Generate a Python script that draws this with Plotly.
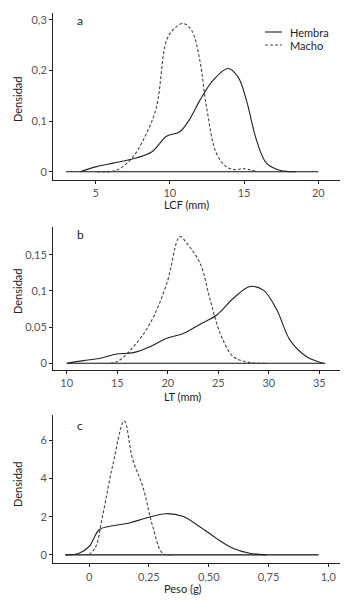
import plotly.graph_objects as go

# Panel a: LCF (mm)
a_hembra_x = [3.94, 5.07, 6.2, 7.31, 8.77, 9.78, 10.67, 11.3, 12.02, 12.92, 13.92, 14.6, 15.16, 15.83, 16.5, 17.4, 18.5]
a_hembra_y = [0.0, 0.010, 0.017, 0.024, 0.039, 0.070, 0.079, 0.102, 0.141, 0.181, 0.204, 0.187, 0.141, 0.063, 0.017, 0.003, 0.0]
a_macho_x = [5.07, 6.4, 7.53, 8.43, 9.1, 9.78, 10.3, 10.9, 11.46, 12.02, 12.47, 13.14, 13.8, 14.4, 14.93, 15.9]
a_macho_y = [0.0, 0.003, 0.030, 0.076, 0.128, 0.260, 0.283, 0.293, 0.280, 0.220, 0.128, 0.036, 0.010, 0.004, 0.006, 0.0]

# Panel b: LT (mm)
b_hembra_x = [10.0, 11.65, 13.3, 14.95, 16.6, 18.25, 19.9, 21.54, 23.2, 24.85, 26.5, 28.15, 29.47, 30.8, 32.1, 33.76, 35.4]
b_hembra_y = [0.0, 0.0037, 0.0069, 0.0128, 0.0147, 0.023, 0.0345, 0.041, 0.054, 0.0667, 0.0898, 0.106, 0.101, 0.0736, 0.032, 0.009, 0.0]
b_macho_x = [13.3, 14.95, 16.6, 18.25, 19.9, 21.2, 21.88, 23.2, 24.2, 25.2, 26.5, 28.15, 29.8]
b_macho_y = [0.0, 0.002, 0.023, 0.055, 0.110, 0.175, 0.166, 0.138, 0.0875, 0.041, 0.009, 0.001, 0.0]

# Panel c: Peso (g)
c_hembra_x = [-0.098, -0.042, 0.0, 0.042, 0.084, 0.168, 0.238, 0.322, 0.391, 0.461, 0.531, 0.601, 0.671, 0.741]
c_hembra_y = [0.0, 0.09, 0.44, 1.32, 1.49, 1.67, 1.93, 2.16, 2.02, 1.49, 0.88, 0.35, 0.09, 0.0]
c_macho_x = [0.0, 0.028, 0.056, 0.098, 0.147, 0.182, 0.224, 0.266, 0.307, 0.35]
c_macho_y = [0.0, 0.44, 2.02, 4.65, 7.02, 5.0, 3.6, 1.49, 0.09, 0.0]

# baselines
a_base = [3, 20]
b_base = [10, 35.6]
c_base = [-0.1, 0.96]

a_ticks = [5, 10, 15, 20]
a_yticks = [0, 0.1, 0.2, 0.3]
a_ytext = ["0", "0,1", "0,2", "0,3"]
b_ticks = [10, 15, 20, 25, 30, 35]
b_yticks = [0, 0.05, 0.1, 0.15]
b_ytext = ["0", "0,05", "0,1", "0,15"]
c_ticks = [0, 0.25, 0.5, 0.75, 1.0]
c_ttext = ["0", "0,25", "0,50", "0,75", "1,0"]
c_yticks = [0, 2, 4, 6]
c_ytext = ["0", "2", "4", "6"]

FONT = "Lato"
solid = dict(color="#222222", width=1.1)
dash = dict(color="#444444", width=1.1, dash="3px,2px")

# page body has an 8px margin; figure is sized to fit the window exactly
OFF = 8
W, H = 356 - 2 * OFF, 605 - 2 * OFF

fig = go.Figure()

def add_panel(xa, ya, hx, hy, mx, my, base):
    fig.add_trace(go.Scatter(x=base, y=[0, 0], mode="lines", line=dict(color="#111111", width=1.1),
                             xaxis=xa, yaxis=ya, showlegend=False, hoverinfo="skip"))
    fig.add_trace(go.Scatter(x=mx, y=my, mode="lines", line=dash, line_shape="spline",
                             xaxis=xa, yaxis=ya, name="Macho", showlegend=False))
    fig.add_trace(go.Scatter(x=hx, y=hy, mode="lines", line=solid, line_shape="spline",
                             xaxis=xa, yaxis=ya, name="Hembra", showlegend=False))

add_panel("x", "y", a_hembra_x, a_hembra_y, a_macho_x, a_macho_y, a_base)
add_panel("x2", "y2", b_hembra_x, b_hembra_y, b_macho_x, b_macho_y, b_base)
add_panel("x3", "y3", c_hembra_x, c_hembra_y, c_macho_x, c_macho_y, c_base)

def px(x):
    return (x - OFF) / W

def py(y):
    return 1 - (y - OFF) / H

xdom = [px(53), px(340)]
axcommon = dict(showline=True, linecolor="#222222", linewidth=1, showgrid=False, zeroline=False,
                ticks="outside", ticklen=3, tickcolor="#222222", tickwidth=1,
                tickfont=dict(family=FONT, size=11, color="#555555"))

def ydom(top, bottom):
    return [py(bottom), py(top)]

fig.update_layout(
    width=W, height=H, margin=dict(l=0, r=0, t=0, b=0),
    paper_bgcolor="white", plot_bgcolor="white", showlegend=False,
    xaxis=dict(domain=xdom, range=[2.13, 21.46], tickvals=a_ticks, anchor="y", **axcommon),
    yaxis=dict(domain=ydom(13, 180), range=[-0.0164, 0.3138], tickvals=a_yticks, ticktext=a_ytext, anchor="x", **axcommon),
    xaxis2=dict(domain=xdom, range=[8.64, 37.05], tickvals=b_ticks, anchor="y2", **axcommon),
    yaxis2=dict(domain=ydom(226.7, 370), range=[-0.0093, 0.1887], tickvals=b_yticks, ticktext=b_ytext, anchor="x2", **axcommon),
    xaxis3=dict(domain=xdom, range=[-0.151, 1.049], tickvals=c_ticks, ticktext=c_ttext, anchor="y3", **axcommon),
    yaxis3=dict(domain=ydom(415, 563.3), range=[-0.44, 7.33], tickvals=c_yticks, ticktext=c_ytext, anchor="x3", **axcommon),
)

def txt(x, y, s, size=11, color="#222222", angle=0, xanchor="center"):
    fig.add_annotation(x=px(x), y=py(y), xref="paper", yref="paper", text=s, showarrow=False,
                       font=dict(family=FONT, size=size, color=color), textangle=angle,
                       xanchor=xanchor, yanchor="middle")

# axis titles
txt(186, 204, "LCF (mm)")
txt(183, 396, "LT (mm)")
txt(183, 588, "Peso (g)")
for yc in (100, 292, 485):
    txt(17, yc, "Densidad", angle=-90)
# panel letters
txt(80, 21, "a", size=12)
txt(80, 235, "b", size=12)
txt(80, 425, "c", size=12)

# legend (drawn as shapes + text)
fig.add_shape(type="line", xref="paper", yref="paper", x0=px(265), x1=px(282), y0=py(32), y1=py(32),
              line=dict(color="#222222", width=1.1))
fig.add_shape(type="line", xref="paper", yref="paper", x0=px(265), x1=px(282), y0=py(45), y1=py(45),
              line=dict(color="#444444", width=1.1, dash="3px,2px"))
txt(288, 32, "Hembra", xanchor="left")
txt(288, 45, "Macho", xanchor="left")

fig.write_html("out.html")
